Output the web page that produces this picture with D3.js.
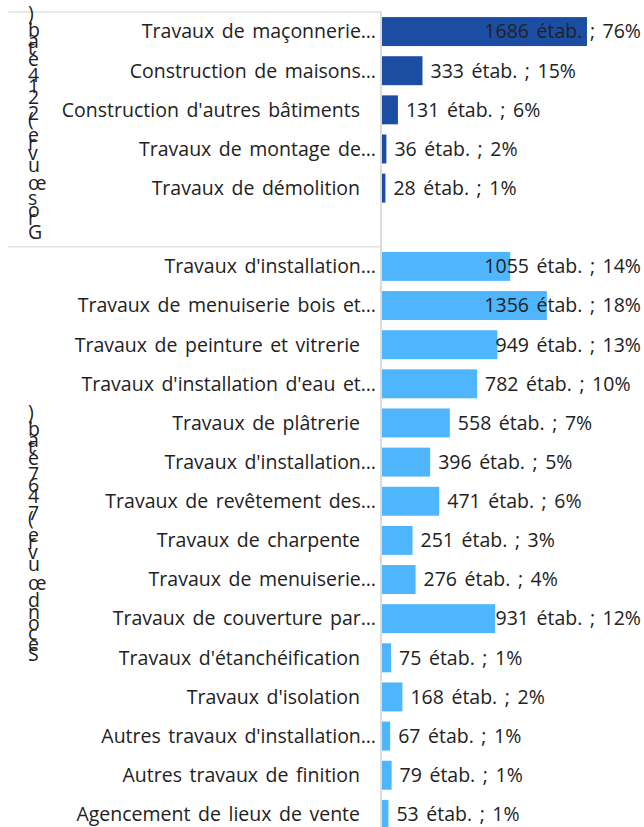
<!DOCTYPE html>
<html>
<head>
<meta charset="utf-8">
<script src="https://cdn.jsdelivr.net/npm/d3@7"></script>
<style>
  body { margin: 0; background: #fff; }
  text { font-family: "Open Sans", sans-serif; fill: #222; }
</style>
</head>
<body>
<svg width="644" height="827"></svg>
<script>
'use strict';

const groupNames = ['Gros œuvre', 'Second œuvre'];

const grosLabels = [
  'Travaux de maçonnerie…',
  'Construction de maisons…',
  "Construction d'autres bâtiments",
  'Travaux de montage de…',
  'Travaux de démolition',
];
const grosValues = [1686, 333, 131, 36, 28];

const secondLabels = [
  "Travaux d'installation…",
  'Travaux de menuiserie bois et…',
  'Travaux de peinture et vitrerie',
  "Travaux d'installation d'eau et…",
  'Travaux de plâtrerie',
  "Travaux d'installation…",
  'Travaux de revêtement des…',
  'Travaux de charpente',
  'Travaux de menuiserie…',
  'Travaux de couverture par…',
  "Travaux d'étanchéification",
  "Travaux d'isolation",
  "Autres travaux d'installation…",
  'Autres travaux de finition',
  'Agencement de lieux de vente',
];
const secondValues = [1055, 1356, 949, 782, 558, 396, 471, 251, 276, 931, 75, 168, 67, 79, 53];

const colours = ['#1b4ea3', '#4fb6fd'];

const svg = d3.select('svg');
const width = 644;
const topY = 12;
const rowStep = 39.14;
const axisX = 381;
const labelRight = 360;
const valueRight = 641;
const fontSize = 19.5;
const wordSpacing = 2.5;

// rows: group 1, one empty row, then group 2
const groups = [
  {name: groupNames[0], labels: grosLabels, values: grosValues, colour: colours[0], spacer: 1},
  {name: groupNames[1], labels: secondLabels, values: secondValues, colour: colours[1], spacer: 0},
];

const rows = [];
groups.forEach((g, gi) => {
  g.total = d3.sum(g.values);
  g.first = rows.length;
  g.labels.forEach((l, i) => {
    rows.push({key: gi + '-' + i, label: l, value: g.values[i], group: g,
      pct: Math.round(g.values[i] / g.total * 100)});
  });
  for (let s = 0; s < g.spacer; s++) rows.push({key: gi + '-sp' + s, spacer: true, group: g});
  g.last = rows.length;
});

const y = d3.scaleBand()
  .domain(rows.map(d => d.key))
  .range([topY, topY + rows.length * rowStep])
  .paddingInner(0.26)
  .paddingOuter(0.13);

const x = d3.scaleLinear()
  .domain([0, 2155])
  .range([axisX + 1, width]);

// frame lines
groups.forEach(g => {
  const y0 = topY + g.first * rowStep;
  svg.append('line')
    .attr('x1', 8).attr('x2', axisX)
    .attr('y1', y0).attr('y2', y0)
    .attr('stroke', '#e1e1e1').attr('stroke-width', 1.5);
});

svg.append('line')
  .attr('x1', axisX).attr('x2', axisX)
  .attr('y1', topY).attr('y2', topY + rows.length * rowStep)
  .attr('stroke', '#d0d0d0').attr('stroke-width', 1.5);

const data = rows.filter(d => !d.spacer);

svg.selectAll('rect.bar')
  .data(data)
  .join('rect')
  .attr('class', 'bar')
  .attr('x', x(0))
  .attr('y', d => y(d.key))
  .attr('width', d => x(d.value) - x(0))
  .attr('height', y.bandwidth())
  .attr('fill', d => d.group.colour);

svg.selectAll('text.cat')
  .data(data)
  .join('text')
  .attr('class', 'cat')
  .attr('x', d => d.label.endsWith('…') ? axisX - 5 : labelRight)
  .attr('y', d => y(d.key) + y.bandwidth() / 2)
  .attr('dy', '0.35em')
  .attr('text-anchor', 'end')
  .attr('font-size', fontSize)
  .attr('word-spacing', wordSpacing)
  .text(d => d.label);

const vals = svg.selectAll('text.val')
  .data(data)
  .join('text')
  .attr('class', 'val')
  .attr('y', d => y(d.key) + y.bandwidth() / 2)
  .attr('dy', '0.35em')
  .attr('font-size', fontSize)
  .attr('word-spacing', wordSpacing)
  .text(d => d.value + ' étab. ; ' + d.pct + '%');

vals.each(function(d) {
  const w = this.getBBox().width;
  const x0 = Math.min(x(d.value) + 8, valueRight - w);
  d3.select(this).attr('x', x0);
});

// group labels: upright glyphs stacked bottom to top
groups.forEach(g => {
  const cy = topY + (g.first + g.last) / 2 * rowStep - 3;
  const txt = g.name + ' (' + d3.format(',')(g.total).replace(',', ' ') + ' étab.)';
  svg.append('text')
    .attr('transform', `translate(28,${cy}) rotate(-90)`)
    .attr('text-anchor', 'middle')
    .attr('font-size', fontSize)
    .attr('rotate', 90)
    .text(txt);
});
</script>
</body>
</html>
